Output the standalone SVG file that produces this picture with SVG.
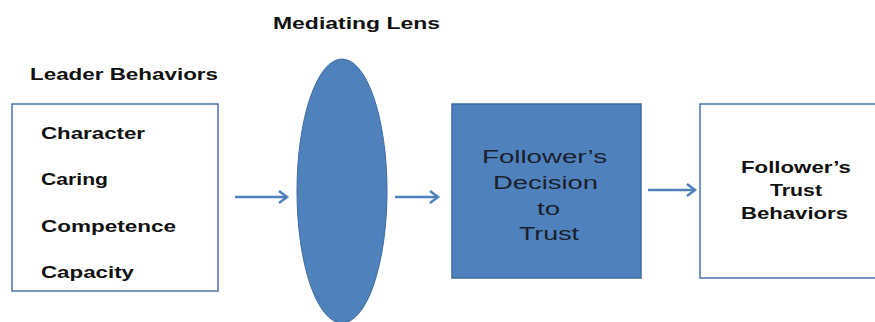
<svg xmlns="http://www.w3.org/2000/svg" width="875" height="322" viewBox="0 0 875 322">
<style>
.b{font-family:"Liberation Sans",Arial,sans-serif;font-weight:bold;font-size:17px;fill:#111;}
.n{font-family:"Liberation Sans",Arial,sans-serif;font-size:18px;fill:#1a1f2b;}
.box{fill:#fff;stroke:#4a74a8;stroke-width:1.5;}
.blue{fill:#4F81BD;stroke:#3f6b9e;stroke-width:1.5;}
.arr{stroke:#4F81BD;stroke-width:2.5;fill:none;marker-end:url(#ah);}
</style>
<defs>
<marker id="ah" markerWidth="14" markerHeight="14" refX="11" refY="7" orient="auto" markerUnits="userSpaceOnUse">
<polyline points="3,1 11,7 3,13" fill="none" stroke="#4F81BD" stroke-width="2.5"/>
</marker>
</defs>
<text class="b" x="273" y="29" textLength="167" lengthAdjust="spacingAndGlyphs">Mediating Lens</text>
<g id="leader">
<text class="b" x="30" y="80" textLength="188" lengthAdjust="spacingAndGlyphs">Leader Behaviors</text>
<rect class="box" x="12" y="104" width="206" height="187"/>
<text class="b" x="41" y="139" textLength="104" lengthAdjust="spacingAndGlyphs">Character</text>
<text class="b" x="41" y="185" textLength="67" lengthAdjust="spacingAndGlyphs">Caring</text>
<text class="b" x="41" y="232" textLength="135" lengthAdjust="spacingAndGlyphs">Competence</text>
<text class="b" x="41" y="278" textLength="93" lengthAdjust="spacingAndGlyphs">Capacity</text>
</g>
<g id="lens">
<ellipse cx="342" cy="191" rx="45" ry="132" fill="#4F81BD" stroke="#3f6b9e" stroke-width="1"/>
</g>
<g id="decision">
<rect class="blue" x="452" y="104" width="189" height="174"/>
<text class="n" x="482" y="163" textLength="125" lengthAdjust="spacingAndGlyphs">Follower’s</text>
<text class="n" x="493" y="189" textLength="105" lengthAdjust="spacingAndGlyphs">Decision</text>
<text class="n" x="537" y="215" textLength="23" lengthAdjust="spacingAndGlyphs">to</text>
<text class="n" x="519" y="240" textLength="60" lengthAdjust="spacingAndGlyphs">Trust</text>
</g>
<g id="behaviors">
<rect class="box" x="700" y="104" width="180" height="174"/>
<text class="b" x="741" y="173" textLength="110" lengthAdjust="spacingAndGlyphs">Follower’s</text>
<text class="b" x="770" y="196" textLength="52" lengthAdjust="spacingAndGlyphs">Trust</text>
<text class="b" x="741" y="219" textLength="107" lengthAdjust="spacingAndGlyphs">Behaviors</text>
</g>
<g id="connectors">
<line class="arr" x1="235" y1="197" x2="287" y2="197"/>
<line class="arr" x1="395" y1="197" x2="438" y2="197"/>
<line class="arr" x1="648" y1="190" x2="695" y2="190"/>
</g>
</svg>
